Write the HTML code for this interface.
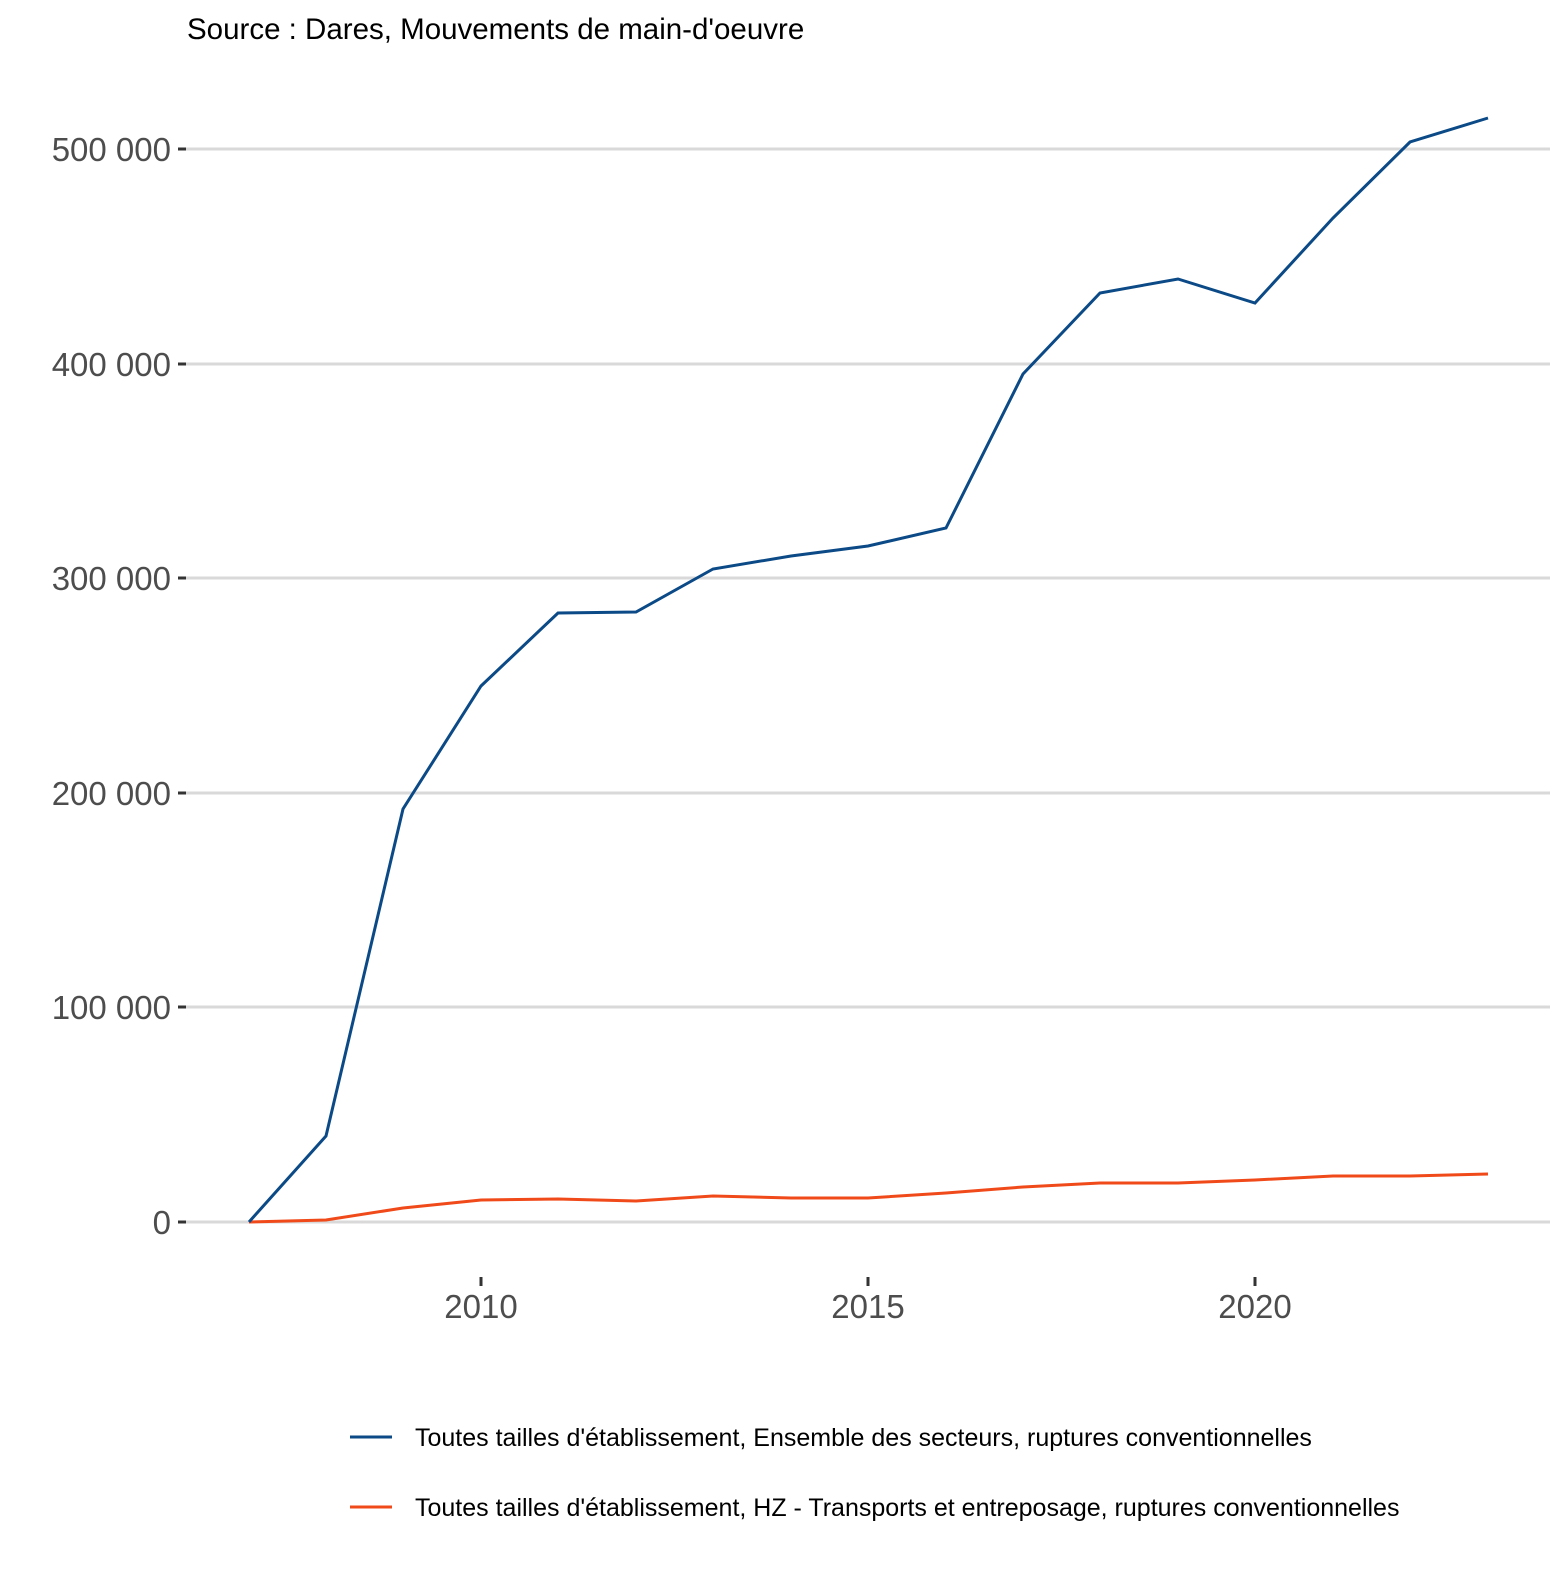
<!DOCTYPE html><html><head><style>body{margin:0;background:#fff}</style></head><body>
<svg width="1568" height="1568" xmlns="http://www.w3.org/2000/svg" font-family="Liberation Sans, sans-serif">
<rect width="1568" height="1568" fill="#fff"/>
<text x="187" y="39" font-size="29.5" fill="#000">Source : Dares, Mouvements de main-d'oeuvre</text>
<g stroke="#d9d9d9" stroke-width="3">
<line x1="186" x2="1550" y1="149" y2="149"/><line x1="186" x2="1550" y1="364" y2="364"/><line x1="186" x2="1550" y1="578" y2="578"/><line x1="186" x2="1550" y1="793" y2="793"/><line x1="186" x2="1550" y1="1007" y2="1007"/><line x1="186" x2="1550" y1="1222" y2="1222"/>
</g>
<g stroke="#333" stroke-width="3">
<line x1="178" x2="186" y1="149" y2="149"/><line x1="178" x2="186" y1="364" y2="364"/><line x1="178" x2="186" y1="578" y2="578"/><line x1="178" x2="186" y1="793" y2="793"/><line x1="178" x2="186" y1="1007" y2="1007"/><line x1="178" x2="186" y1="1222" y2="1222"/>
<line x1="481" x2="481" y1="1277" y2="1286"/><line x1="868" x2="868" y1="1277" y2="1286"/><line x1="1255" x2="1255" y1="1277" y2="1286"/>
</g>
<g font-size="33" fill="#4d4d4d" text-anchor="end">
<text x="171" y="161">500 000</text><text x="171" y="376">400 000</text><text x="171" y="590">300 000</text><text x="171" y="805">200 000</text><text x="171" y="1019">100 000</text><text x="171" y="1234">0</text>
</g>
<g font-size="33" fill="#4d4d4d" text-anchor="middle">
<text x="481" y="1318">2010</text><text x="868" y="1318">2015</text><text x="1255" y="1318">2020</text>
</g>
<polyline fill="none" stroke="#f04a1a" stroke-width="3" points="249,1222 326,1220 403,1208 481,1200 558,1199 636,1201 713,1196 791,1198 868,1198 946,1193 1023,1187 1100,1183 1178,1183 1255,1180 1333,1176 1410,1176 1488,1174"/>
<polyline fill="none" stroke="#0b4a86" stroke-width="3" points="249,1222 326,1136 403,809 481,686 558,613 636,612 713,569 791,556 868,546 946,528 1023,374 1100,293 1178,279 1255,303 1333,218 1410,142 1488,118"/>
<line x1="350" x2="392" y1="1437" y2="1437" stroke="#0b4a86" stroke-width="3"/>
<line x1="350" x2="392" y1="1507" y2="1507" stroke="#f04a1a" stroke-width="3"/>
<g font-size="25" fill="#000">
<text x="415" y="1446">Toutes tailles d'établissement, Ensemble des secteurs, ruptures conventionnelles</text>
<text x="415" y="1516">Toutes tailles d'établissement, HZ - Transports et entreposage, ruptures conventionnelles</text>
</g>
</svg></body></html>
